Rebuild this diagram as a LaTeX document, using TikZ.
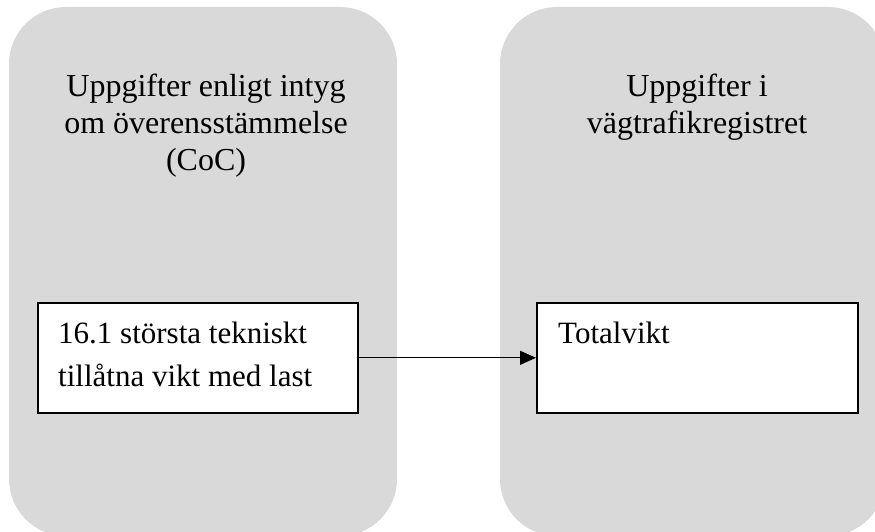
\documentclass[tikz,border=0pt]{standalone}
\usepackage{fontspec}
\setmainfont{Liberation Serif}
\usetikzlibrary{arrows.meta}
\definecolor{panelgray}{HTML}{D9D9D9}
\tikzset{
  panel/.style={fill=panelgray, draw=none, rounded corners=57pt},
  fieldbox/.style={draw=black, line width=1.6pt, fill=white, minimum width=#1, minimum height=110pt, anchor=north west, inner sep=0pt},
  txt/.style={font=\fontsize{32}{38}\selectfont, inner sep=0pt, anchor=base},
  txtl/.style={font=\fontsize{31}{38}\selectfont, inner sep=0pt, anchor=base west},
  link/.style={draw=black, line width=1.2pt, -{Triangle[length=16pt,width=14pt]}}
}
\begin{document}
\begin{tikzpicture}[x=1pt,y=-1pt]
\useasboundingbox (0,0) rectangle (875,532);
\clip (0,0) rectangle (875,532);
\fill[panel] (9,7) rectangle (397,536);
\fill[panel] (500,7) rectangle (885,536);
% titles
\node[txt] (t1) at (206,97) {Uppgifter enligt intyg};
\node[txt] (t2) at (206,134) {om överensstämmelse};
\node[txt] (t3) at (206,170) {(CoC)};
\node[txt] (r1) at (697,97) {Uppgifter i};
\node[txt] (r2) at (697,134) {vägtrafikregistret};
% boxes
\node[fieldbox=320pt] (coc) at (37,302) {};
\node[fieldbox=321pt] (reg) at (536,302) {};
\node[txtl] (c1) at (58,343) {16.1 största tekniskt};
\node[txtl] (c2) at (58,386) {tillåtna vikt med last};
\node[txtl] (g1) at (558,343) {Totalvikt};
\draw[link] (coc.east) -- (reg.west);
\end{tikzpicture}
\end{document}
